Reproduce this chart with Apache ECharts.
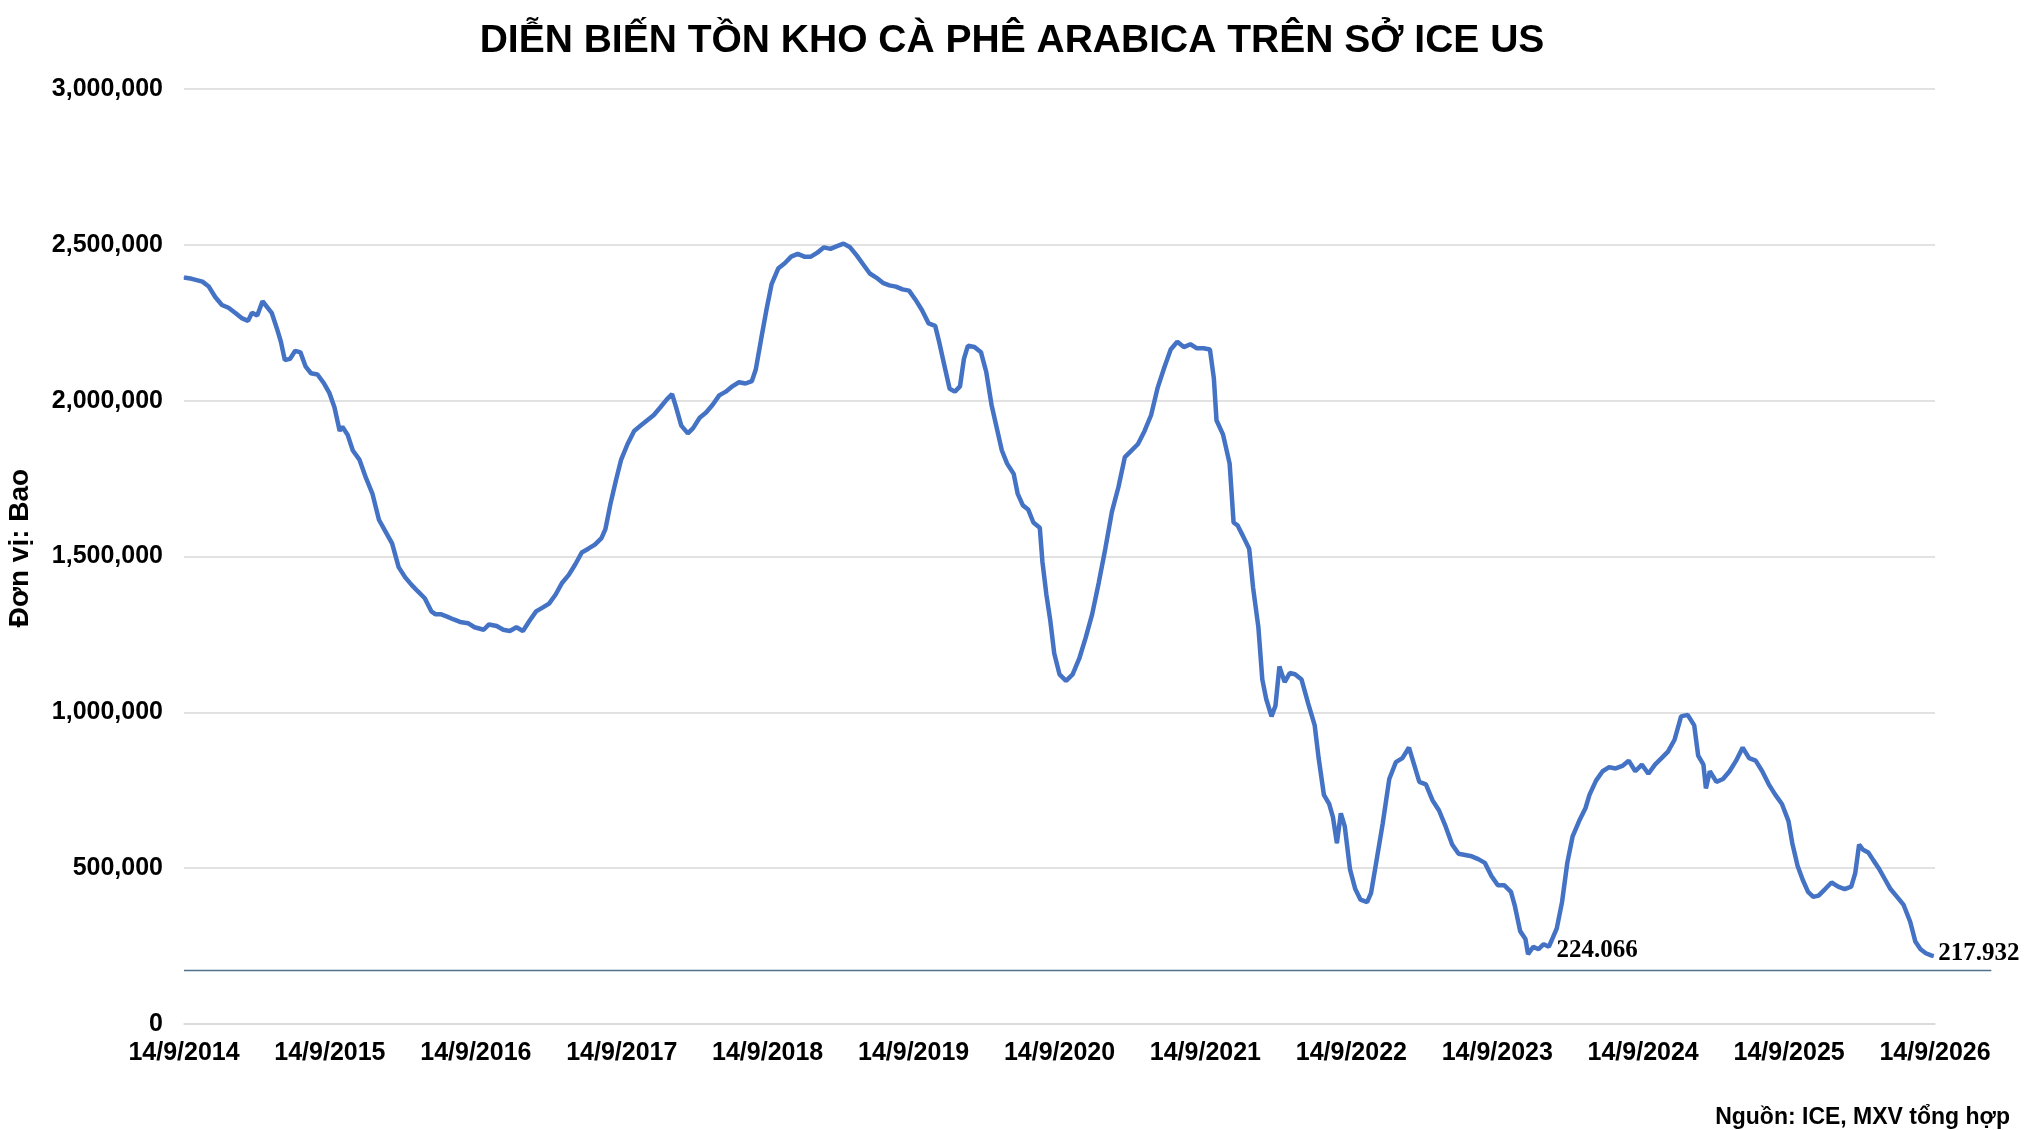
<!DOCTYPE html>
<html>
<head>
<meta charset="utf-8">
<script src="https://cdn.jsdelivr.net/npm/echarts@6/dist/echarts.min.js"></script>
<style>
  html, body { margin: 0; padding: 0; background: #fff; }
  #chart { width: 2027px; height: 1130px; }
</style>
</head>
<body>
<div id="chart"></div>
<script>
// years elapsed since 14/9/2014 (x position of each reading)
var yearsFromStart = [
  0.000, 0.054, 0.126, 0.170, 0.215, 0.260, 0.305, 0.350, 0.395, 0.439,
  0.466, 0.502, 0.538, 0.574, 0.601, 0.637, 0.664, 0.691, 0.726, 0.762,
  0.798, 0.834, 0.870, 0.915, 0.960, 0.996, 1.031, 1.067, 1.085, 1.121,
  1.157, 1.202, 1.247, 1.291, 1.336, 1.381, 1.426, 1.471, 1.516, 1.561,
  1.605, 1.650, 1.695, 1.722, 1.758, 1.803, 1.848, 1.892, 1.946, 1.991,
  2.054, 2.090, 2.143, 2.188, 2.233, 2.278, 2.323, 2.368, 2.413, 2.457,
  2.502, 2.547, 2.592, 2.637, 2.682, 2.726, 2.771, 2.816, 2.861, 2.888,
  2.924, 2.960, 2.996, 3.040, 3.085, 3.130, 3.175, 3.220, 3.265, 3.309,
  3.345, 3.372, 3.408, 3.453, 3.489, 3.534, 3.578, 3.623, 3.668, 3.713,
  3.758, 3.803, 3.848, 3.892, 3.919, 3.955, 3.991, 4.027, 4.072, 4.117,
  4.161, 4.206, 4.251, 4.296, 4.341, 4.386, 4.430, 4.475, 4.520, 4.565,
  4.610, 4.655, 4.700, 4.744, 4.789, 4.834, 4.879, 4.924, 4.969, 5.013,
  5.058, 5.103, 5.148, 5.175, 5.211, 5.247, 5.283, 5.318, 5.345, 5.372,
  5.417, 5.462, 5.498, 5.534, 5.570, 5.605, 5.641, 5.686, 5.713, 5.749,
  5.785, 5.821, 5.865, 5.883, 5.910, 5.937, 5.964, 6.000, 6.045, 6.090,
  6.135, 6.179, 6.224, 6.269, 6.314, 6.359, 6.404, 6.448, 6.493, 6.538,
  6.583, 6.628, 6.673, 6.717, 6.762, 6.807, 6.852, 6.897, 6.942, 6.987,
  7.031, 7.058, 7.076, 7.121, 7.166, 7.193, 7.220, 7.256, 7.300, 7.327,
  7.363, 7.390, 7.417, 7.453, 7.480, 7.507, 7.543, 7.578, 7.614, 7.659,
  7.704, 7.749, 7.776, 7.812, 7.848, 7.874, 7.901, 7.928, 7.955, 7.991,
  8.027, 8.063, 8.108, 8.135, 8.170, 8.215, 8.260, 8.305, 8.350, 8.395,
  8.422, 8.466, 8.511, 8.556, 8.601, 8.646, 8.691, 8.735, 8.780, 8.825,
  8.870, 8.915, 8.960, 9.004, 9.049, 9.094, 9.121, 9.157, 9.193, 9.211,
  9.247, 9.283, 9.318, 9.354, 9.381, 9.408, 9.444, 9.480, 9.516, 9.561,
  9.605, 9.632, 9.677, 9.722, 9.767, 9.812, 9.857, 9.901, 9.946, 9.991,
  10.036, 10.081, 10.126, 10.170, 10.215, 10.260, 10.305, 10.350, 10.377, 10.413,
  10.430, 10.457, 10.502, 10.547, 10.592, 10.637, 10.682, 10.726, 10.771, 10.816,
  10.861, 10.906, 10.951, 10.996, 11.022, 11.058, 11.094, 11.130, 11.166, 11.202,
  11.247, 11.291, 11.336, 11.381, 11.426, 11.453, 11.480, 11.507, 11.543, 11.578,
  11.614, 11.655, 11.695, 11.740, 11.785, 11.830, 11.865, 11.901, 11.937, 11.973,
  11.991
];

// ICE certified arabica stocks, bags
var stockBags = [
  2395000, 2391000, 2382000, 2366000, 2332000, 2307000, 2298000, 2282000, 2265000, 2256000,
  2282000, 2273000, 2319000, 2298000, 2282000, 2231000, 2189000, 2130000, 2134000, 2160000,
  2155000, 2109000, 2088000, 2084000, 2055000, 2025000, 1979000, 1903000, 1916000, 1891000,
  1840000, 1811000, 1752000, 1702000, 1618000, 1580000, 1542000, 1466000, 1433000, 1408000,
  1387000, 1366000, 1324000, 1315000, 1315000, 1307000, 1298000, 1290000, 1286000, 1273000,
  1265000, 1282000, 1277000, 1265000, 1261000, 1273000, 1261000, 1294000, 1324000, 1336000,
  1349000, 1378000, 1416000, 1441000, 1475000, 1513000, 1525000, 1538000, 1559000, 1588000,
  1672000, 1744000, 1811000, 1861000, 1903000, 1920000, 1937000, 1954000, 1979000, 2004000,
  2021000, 1979000, 1920000, 1895000, 1912000, 1945000, 1962000, 1987000, 2017000, 2029000,
  2046000, 2059000, 2055000, 2063000, 2101000, 2197000, 2290000, 2374000, 2424000, 2441000,
  2462000, 2471000, 2462000, 2462000, 2475000, 2492000, 2487000, 2496000, 2504000, 2492000,
  2466000, 2437000, 2408000, 2395000, 2378000, 2370000, 2366000, 2357000, 2353000, 2324000,
  2290000, 2248000, 2240000, 2189000, 2113000, 2038000, 2029000, 2046000, 2134000, 2176000,
  2172000, 2155000, 2092000, 1987000, 1912000, 1840000, 1798000, 1765000, 1702000, 1664000,
  1651000, 1609000, 1592000, 1483000, 1378000, 1294000, 1189000, 1122000, 1101000, 1122000,
  1172000, 1239000, 1315000, 1416000, 1525000, 1643000, 1723000, 1819000, 1840000, 1861000,
  1903000, 1954000, 2042000, 2105000, 2164000, 2189000, 2172000, 2181000, 2168000, 2168000,
  2164000, 2071000, 1937000, 1891000, 1798000, 1609000, 1600000, 1567000, 1525000, 1399000,
  1273000, 1105000, 1042000, 987000, 1021000, 1147000, 1097000, 1126000, 1122000, 1105000,
  1029000, 958000, 853000, 735000, 706000, 664000, 580000, 676000, 634000, 496000,
  433000, 399000, 391000, 420000, 517000, 643000, 786000, 840000, 853000, 887000,
  845000, 777000, 769000, 718000, 685000, 634000, 576000, 546000, 542000, 538000,
  529000, 517000, 475000, 445000, 445000, 424000, 378000, 298000, 273000, 224066,
  248000, 240000, 256000, 248000, 277000, 307000, 391000, 517000, 601000, 651000,
  693000, 735000, 781000, 811000, 824000, 820000, 828000, 845000, 811000, 832000,
  803000, 832000, 853000, 874000, 912000, 987000, 992000, 958000, 861000, 832000,
  756000, 811000, 777000, 786000, 811000, 845000, 887000, 853000, 845000, 811000,
  769000, 735000, 706000, 651000, 580000, 508000, 462000, 424000, 408000, 412000,
  433000, 454000, 441000, 433000, 441000, 483000, 576000, 559000, 550000, 525000,
  500000, 466000, 433000, 408000, 382000, 328000, 265000, 240000, 227000, 220000,
  217932
];

var tickLabels = [
  '14/9/2014', '14/9/2015', '14/9/2016', '14/9/2017', '14/9/2018', '14/9/2019', '14/9/2020',
  '14/9/2021', '14/9/2022', '14/9/2023', '14/9/2024', '14/9/2025', '14/9/2026'
];

// readings that carry a value label, and how far the label is pushed
var labelledValues = [224066, 217932];
var labelOffsets = [[24, -4], [0, -3]];

// thin reference line under the lows and how far right it runs
var floorLevel = 172000;
var floorLineEnd = 12.386;

var chart = echarts.init(document.getElementById('chart'));

var sans = "'Liberation Sans', Arial, sans-serif";

var seriesData = yearsFromStart.map(function (t, i) {
  var v = stockBags[i];
  var k = labelledValues.indexOf(v);
  if (k < 0) {
    return [t, v];
  }
  return {
    value: [t, v],
    label: {
      show: true,
      position: 'right',
      distance: 4,
      offset: labelOffsets[k],
      formatter: function (p) {
        return p.value[1].toLocaleString('de-DE');
      },
      fontFamily: "'Liberation Serif', 'Times New Roman', serif",
      fontWeight: 'bold',
      fontSize: 25,
      color: '#000'
    }
  };
});

var option = {
  backgroundColor: '#fff',
  animation: false,
  title: {
    text: 'DIỄN BIẾN TỒN KHO CÀ PHÊ ARABICA TRÊN SỞ ICE US',
    left: 1007,
    textAlign: 'center',
    top: 17,
    textStyle: {
      fontFamily: sans,
      fontWeight: 'bold',
      fontSize: 39,
      color: '#000'
    }
  },
  grid: {
    left: 184,
    right: 92,
    top: 89,
    bottom: 106,
    outerBoundsMode: 'none'
  },
  xAxis: {
    type: 'value',
    min: 0,
    max: 12,
    interval: 1,
    axisLine: { show: true, lineStyle: { color: '#d9d9d9', width: 1.5 } },
    axisTick: { show: false },
    splitLine: { show: false },
    axisLabel: {
      margin: 17,
      fontFamily: sans,
      fontWeight: 'bold',
      fontSize: 25,
      color: '#000',
      formatter: function (v) {
        return tickLabels[Math.round(v)];
      }
    }
  },
  yAxis: {
    type: 'value',
    min: 0,
    max: 3000000,
    interval: 500000,
    axisLine: { show: false },
    axisTick: { show: false },
    splitLine: { lineStyle: { color: '#d9d9d9', width: 1.5 } },
    axisLabel: {
      margin: 21,
      fontFamily: sans,
      fontWeight: 'bold',
      fontSize: 25,
      color: '#000',
      formatter: function (v) {
        return v.toLocaleString('en-US');
      }
    }
  },
  series: [
    {
      type: 'line',
      data: seriesData,
      showSymbol: true,
      showAllSymbol: true,
      symbol: 'circle',
      symbolSize: 1,
      lineStyle: { color: '#4472C4', width: 4.5 },
      itemStyle: { color: '#4472C4' },
      z: 3
    }
  ]
};

chart.setOption(option);

// the floor line runs past the plot area, so place it from the axis scales
var p0 = chart.convertToPixel({ gridIndex: 0 }, [0, floorLevel]);
var p1 = chart.convertToPixel({ gridIndex: 0 }, [floorLineEnd, floorLevel]);
chart.setOption({
  graphic: [
    {
      type: 'line',
      shape: { x1: p0[0], y1: p0[1], x2: p1[0], y2: p1[1] },
      style: { stroke: '#52728c', lineWidth: 1.5 },
      z: 2
    },
    {
      type: 'text',
      x: 20,
      y: 548,
      rotation: Math.PI / 2,
      style: {
        text: 'Đơn vị: Bao',
        fontFamily: sans,
        fontWeight: 'bold',
        fontSize: 28,
        fill: '#000',
        align: 'center',
        verticalAlign: 'middle'
      }
    },
    {
      type: 'text',
      right: 17,
      top: 1106,
      style: {
        text: 'Nguồn: ICE, MXV tổng hợp',
        fontFamily: sans,
        fontWeight: 'bold',
        fontSize: 23,
        fill: '#000'
      }
    }
  ]
});
</script>
</body>
</html>
